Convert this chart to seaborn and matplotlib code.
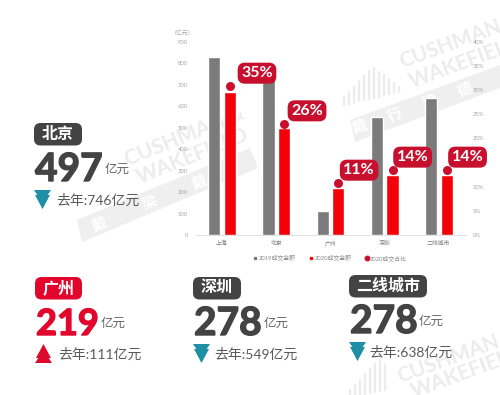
import matplotlib
matplotlib.use("Agg")
import matplotlib.pyplot as plt
import matplotlib.patheffects as pe
from matplotlib.lines import Line2D
from matplotlib.patches import FancyBboxPatch, Polygon
import pandas as pd
import seaborn as sns

cities = ["上海", "北京", "广州", "深圳", "二线城市"]
deals_2019 = [830, 746, 111, 549, 638]
deals_2020 = [667, 497, 219, 278, 278]
share_dots = [30.8, 23.0, 10.7, 13.4, 13.4]
share_labels = ["35%", "26%", "11%", "14%", "14%"]
left_ticks = [0, 100, 200, 300, 400, 500, 600, 700, 800, 900]
right_ticks = [0, 5, 10, 15, 20, 25, 30, 35, 40]
series_names = ["2019成交金额", "2020成交金额", "2020成交占比"]

GRAY = "#7b7b7b"
RED = "#f40009"
DARK_RED = "#c8102e"
DARK = "#434343"
TICK = "#a5a5a5"
MARK = "#ececec"
TEAL = "#1f8fa6"

sns.set_theme(style="white")
plt.rcParams["font.family"] = ["Lato", "Noto Sans CJK SC", "DejaVu Sans"]

df = pd.DataFrame({
    "city": cities * 2,
    "value": deals_2019 + deals_2020,
    "series": [series_names[0]] * 5 + [series_names[1]] * 5,
})

fig = plt.figure(figsize=(5.0, 3.95), dpi=100, facecolor="white")

# overlay in pixel coords, sits behind the chart
bg = fig.add_axes([0, 0, 1, 1], zorder=0)
bg.set_xlim(0, 500)
bg.set_ylim(395, 0)
bg.axis("off")


def watermark(band, lines, icon_x, icon_base, angle):
    if band:
        bg.add_patch(Polygon(band, color="#efefef", lw=0))
    for x, y, s in lines:
        bg.text(x, y, s, rotation=angle, rotation_mode="anchor", color=MARK,
                fontsize=15, fontweight="bold", ha="left", va="baseline")
    for i, x in enumerate(icon_x):
        h = 8 + i * 4 if i < 6 else 30 - (i - 6) * 5
        bg.plot([x, x], [icon_base - i * 1.2, icon_base - i * 1.2 - h], color=MARK, lw=1.6)


watermark([(77, 220), (250, 148), (258, 168), (82, 242)],
          [(128, 166, "CUSHMAN &"), (140, 184, "WAKEFIELD")], [], 0, 22)
watermark([(350, 120), (500, 65), (500, 88), (355, 142)],
          [(402, 68, "CUSHMAN"), (412, 88, "WAKEFIELD")],
          range(344, 400, 5), 105, 20)
watermark(None, [(400, 383, "CUSHMAN"), (414, 398, "WAKEFIELD")],
          range(350, 386, 5), 398, 20)
for x, y, a in [(360, 128, 20), (395, 116, 20), (430, 103, 20), (465, 90, 20),
                (100, 225, 22), (150, 204, 22), (200, 183, 22)]:
    bg.text(x, y, "戴德梁行"[int(x) % 4], color="white", fontsize=11, rotation=a,
            ha="center", va="center", fontweight="bold")


def arrow(x, y, color, up=False):
    # stacked chevron, 17 wide and 19 tall
    top = [(0, 0), (17, 0), (13, 6), (4, 6)]
    tip = [(1, 5), (16, 5), (8.5, 19), (8.5, 19)]
    for pts in (top, tip):
        if up:
            pts = [(px, 19 - py) for px, py in pts]
        bg.add_patch(Polygon([(x + px, y + py) for px, py in pts], color=color, lw=0))


def panel(name, num, last, pill_x, pill_w, y, color=DARK, up=False, arrow_color=TEAL,
          unit_x=None, last_x=None, num_size=28):
    bg.add_patch(FancyBboxPatch((pill_x + 5, y + 5), pill_w - 10, 12.5,
                                boxstyle="round,pad=5,rounding_size=6.5", fc=color, ec="none"))
    bg.text(pill_x + pill_w / 2, y + 11, name, color="white", fontsize=11.5, fontweight="bold",
            ha="center", va="center")
    bg.text(pill_x + 1, y + 58, num, color=color, fontsize=num_size, fontweight="bold", ha="left",
            va="baseline", path_effects=[pe.withStroke(linewidth=1.0, foreground=color)])
    bg.text(unit_x, y + 46, "亿元", color="#666666", fontsize=9, ha="left", va="center")
    arrow(pill_x, y + 67, arrow_color, up)
    bg.text(last_x, y + 77, "去年:" + last + "亿元", color="#5a5a5a", fontsize=10,
            ha="left", va="center")


panel("北京", "497", "746", 34, 48, 123, unit_x=105, last_x=56)
panel("广州", "219", "111", 35, 47, 277, color="#e2062c", up=True, arrow_color="#dc0a2d",
      unit_x=101, last_x=58, num_size=26)
panel("深圳", "278", "549", 193, 48, 277, unit_x=264, last_x=214)
panel("二线城市", "278", "638", 349, 78, 275, unit_x=419, last_x=369)

# chart, x 195-466 and y 42-235 px
ax = fig.add_axes([195 / 500, 1 - 235 / 395, 271 / 500, 193 / 395], zorder=2)
ax.patch.set_alpha(0)
sns.barplot(data=df, x="city", y="value", hue="series", order=cities,
            palette=[GRAY, RED], width=0.577, gap=0.21, saturation=1, legend=False, ax=ax)
ax.set_ylim(0, 900)
ax.set_yticks(left_ticks)
ax.set_xlabel("")
ax.set_ylabel("")
ax.tick_params(axis="both", length=0, labelsize=4.2, labelcolor=TICK, pad=5)
ax.tick_params(axis="x", labelcolor="#777777", pad=4)
sns.despine(ax=ax, left=True, right=True, top=True)
ax.spines["bottom"].set_color("#dddddd")
ax.spines["bottom"].set_linewidth(0.6)

ax2 = ax.twinx()
ax2.set_ylim(0, 40)
ax2.set_yticks(right_ticks)
ax2.set_yticklabels([f"{t}%" for t in right_ticks])
ax2.tick_params(axis="y", length=0, labelsize=4.2, labelcolor=TICK, pad=5)
ax2.grid(False)
sns.despine(ax=ax2, left=True, right=True, top=True, bottom=True)

dot_x = [i + 0.144 for i in range(len(cities))]
sns.scatterplot(x=dot_x, y=share_dots, color=DARK_RED, s=42, linewidth=0, ax=ax2, zorder=5)
ax.set_xlim(-0.5, 4.5)
ax2.set_ylim(0, 40)

label_dx = [19.5, 16.5, 15, 14.5, 15]
for x, y, s, dx in zip(dot_x, share_dots, share_labels, label_dx):
    ax2.annotate(s, (x, y), xytext=(dx, 9.5), textcoords="offset points", color="white",
                 fontsize=11.5, fontweight="bold", ha="center", va="center",
                 bbox=dict(boxstyle="round,pad=0.22,rounding_size=0.45", fc=DARK_RED, ec="none"),
                 zorder=6)

bg.text(183, 32, "（亿元）", color=TICK, fontsize=4.2, ha="center", va="center")

handles = [
    Line2D([], [], marker="s", ls="", color=GRAY, ms=2),
    Line2D([], [], marker="s", ls="", color=RED, ms=2),
    Line2D([], [], marker="o", ls="", color=DARK_RED, ms=3.2),
]
fig.legend(handles, series_names, ncol=3, frameon=False, fontsize=4.2, labelcolor="#888888",
           loc="center", bbox_to_anchor=(330 / 500, 1 - 258 / 395), handlelength=0.8,
           handletextpad=0.2, columnspacing=2.2)

fig.savefig("out.png", dpi=100)
